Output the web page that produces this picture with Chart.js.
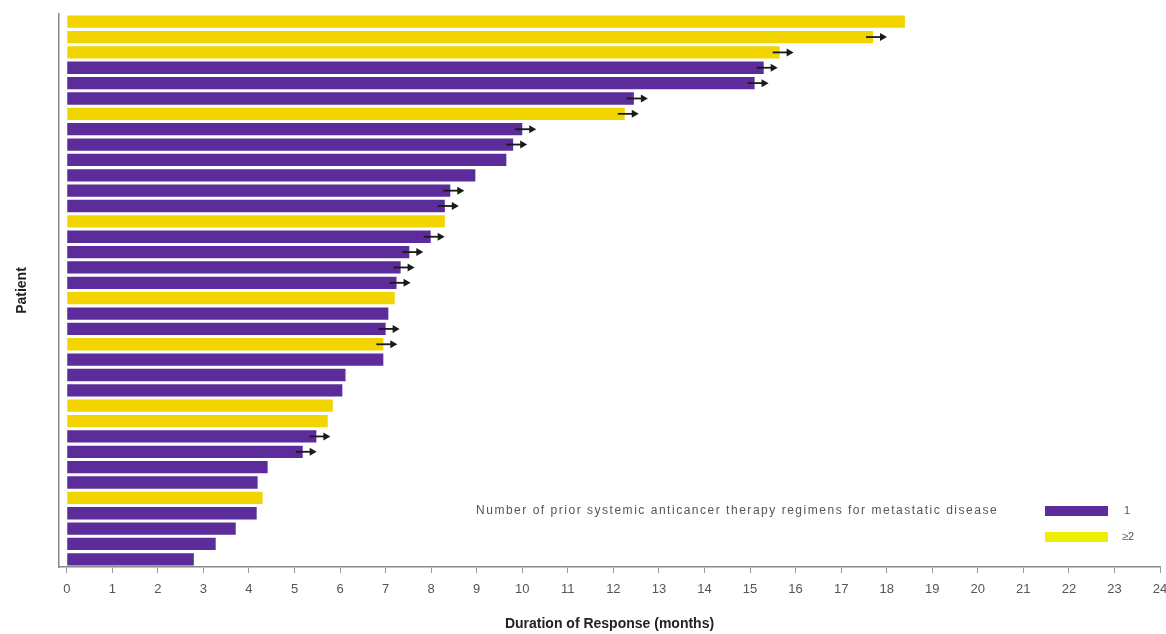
<!DOCTYPE html>
<html>
<head>
<meta charset="utf-8">
<script src="https://cdn.jsdelivr.net/npm/chart.js@4"></script>
<style>
  html, body { margin: 0; padding: 0; background: #fff; }
  #wrap { width: 1166px; height: 634px; }
</style>
</head>
<body>
<div id="wrap"><canvas id="dorChart" width="1166" height="634"></canvas></div>
<script>
// 奏効期間(月) 上から順に患者ごと
const patients = Array.from({ length: 36 }, (_, i) => String(i + 1));
const months = [
    18.4, 17.7, 15.65, 15.3, 15.1, 12.45, 12.25, 10.0, 9.8, 9.65,
    8.97, 8.42, 8.3, 8.3, 7.99, 7.52, 7.33, 7.24, 7.2, 7.06,
    7.0, 6.95, 6.95, 6.12, 6.05, 5.84, 5.73, 5.48, 5.18, 4.41,
    4.19, 4.3, 4.17, 3.71, 3.27, 2.79,
];
// 転移性疾患に対する前治療レジメン数 (1 = 1, 2 = ≥2)
const priorLines = [
    2, 2, 2, 1, 1, 1, 2, 1, 1, 1,
    1, 1, 1, 2, 1, 1, 1, 1, 2, 1,
    1, 2, 1, 1, 1, 2, 2, 1, 1, 1,
    1, 2, 1, 1, 1, 1,
];
// 奏効継続中(矢印)
const ongoing = [
    false, true, true, true, true, true, true, true, true, false,
    false, true, true, false, true, true, true, true, false, false,
    true, true, false, false, false, false, false, true, true, false,
    false, false, false, false, false, false,
];
const xTicks = Array.from({ length: 25 }, (_, i) => i);

const PURPLE = "#5b2c9a";
const YELLOW = "#f2d400";
const LEGEND_YELLOW = "#ecef00";
const LEGEND_TEXT = "Number of prior systemic anticancer therapy regimens for metastatic disease";

// 継続中の患者に矢印を描く
const arrowPlugin = {
    id: "ongoingArrows",
    afterDatasetsDraw(chart) {
        const meta = chart.getDatasetMeta(0);
        const c = chart.ctx;
        c.save();
        c.strokeStyle = "#1a1a1a";
        c.fillStyle = "#1a1a1a";
        c.lineWidth = 1.8;
        meta.data.forEach((bar, i) => {
            if (!ongoing[i]) return;
            const x0 = bar.x - 7;
            const x1 = bar.x + 14;
            const y = bar.y;
            c.beginPath();
            c.moveTo(x0, y);
            c.lineTo(x1 - 4, y);
            c.stroke();
            c.beginPath();
            c.moveTo(x1, y);
            c.lineTo(x1 - 7, y - 4);
            c.lineTo(x1 - 7, y + 4);
            c.closePath();
            c.fill();
        });
        c.restore();
    },
};

// 凡例(右下)
const legendPlugin = {
    id: "priorLegend",
    afterDraw(chart) {
        const c = chart.ctx;
        c.save();
        c.font = "12px 'Liberation Sans', Arial, sans-serif";
        c.fillStyle = "#555";
        c.textBaseline = "middle";
        // 文字間を少し広げて横幅をそろえる
        const w = c.measureText(LEGEND_TEXT).width;
        c.letterSpacing = Math.max(0, (522 - w) / LEGEND_TEXT.length).toFixed(2) + "px";
        c.fillText(LEGEND_TEXT, 476, 511);
        c.letterSpacing = "0px";
        c.fillStyle = PURPLE;
        c.fillRect(1045, 506, 63, 10);
        c.fillStyle = LEGEND_YELLOW;
        c.fillRect(1045, 532, 63, 10);
        c.fillStyle = "#555";
        c.font = "11px 'Liberation Sans', Arial, sans-serif";
        c.fillText("1", 1124, 511);
        c.fillText("≥2", 1122, 537);
        c.restore();
    },
};

const ctx = document.getElementById("dorChart");

new Chart(ctx, {
    type: "bar",
    data: {
        labels: patients,
        datasets: [
            {
                data: months,
                backgroundColor: priorLines.map((p) => (p === 1 ? PURPLE : YELLOW)),
                barPercentage: 0.8,
                categoryPercentage: 1.0,
                borderWidth: 0,
            },
        ],
    },
    options: {
        indexAxis: "y",
        responsive: false,
        animation: false,
        layout: { padding: { top: 14, right: 6, bottom: 0, left: 0 } },
        plugins: {
            legend: { display: false },
            tooltip: { enabled: false },
        },
        scales: {
            x: {
                type: "linear",
                min: -0.17,
                max: 24,
                afterBuildTicks: (scale) => {
                    scale.ticks = xTicks.map((v) => ({ value: v }));
                },
                afterFit: (scale) => {
                    scale.height = 67;
                    // 右端の「24」は端で切れてよい
                    scale.paddingRight = 0;
                },
                grid: {
                    display: true,
                    drawOnChartArea: false,
                    drawTicks: true,
                    tickLength: 6,
                    color: "#999",
                },
                border: { display: true, color: "#8a8a8a", width: 1.5 },
                ticks: {
                    color: "#555",
                    padding: 9,
                    maxRotation: 0,
                    autoSkip: false,
                    font: { family: "'Liberation Sans Narrow', 'Liberation Sans', Arial, sans-serif", size: 13 },
                },
                title: {
                    display: true,
                    text: "Duration of Response (months)",
                    color: "#222",
                    padding: { top: 0, bottom: 1 },
                    font: { family: "'Liberation Sans', Arial, sans-serif", size: 14, weight: "bold" },
                },
            },
            y: {
                afterFit: (scale) => {
                    scale.width = 59;
                },
                grid: { display: false },
                border: { display: true, color: "#8a8a8a", width: 1.5 },
                ticks: { display: false },
                title: {
                    display: true,
                    text: "Patient",
                    color: "#222",
                    padding: { top: 14, bottom: 0 },
                    font: { family: "'Liberation Sans', Arial, sans-serif", size: 14, weight: "bold" },
                },
            },
        },
    },
    plugins: [arrowPlugin, legendPlugin],
});
</script>
</body>
</html>
